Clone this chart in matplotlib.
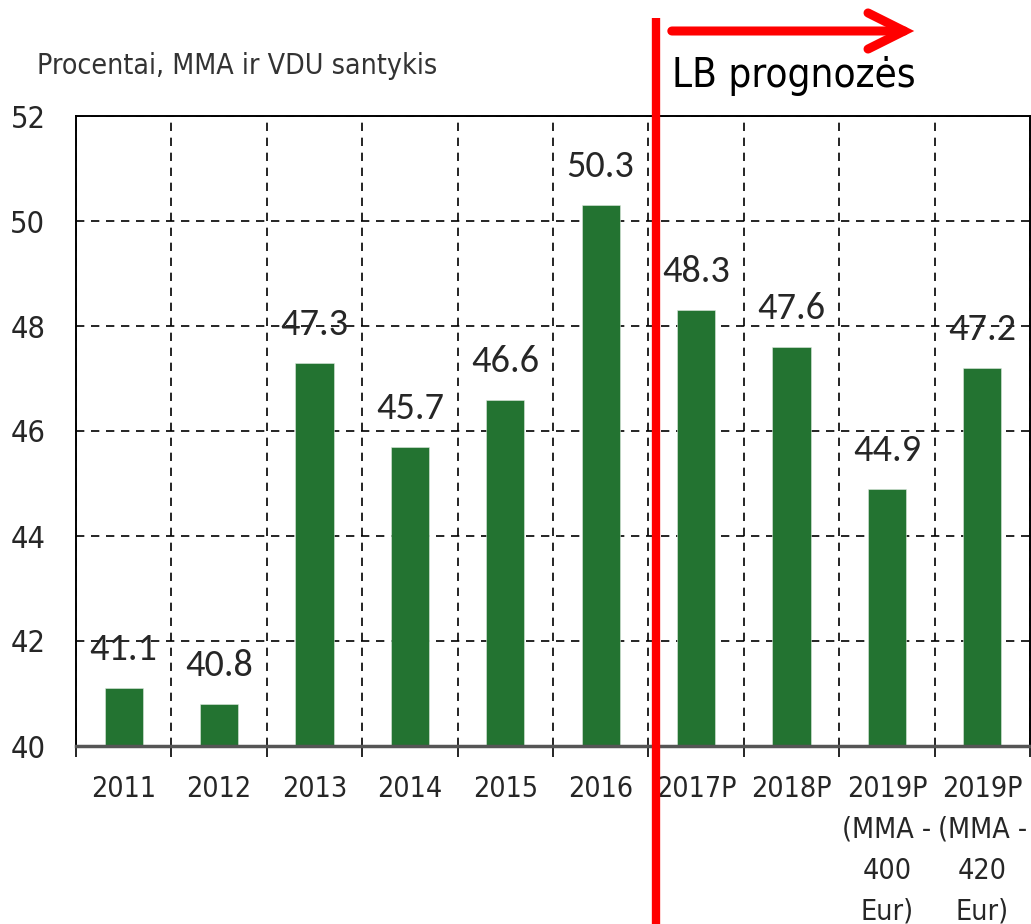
import matplotlib

matplotlib.use("Agg")
import matplotlib.pyplot as plt
import numpy as np
from matplotlib import font_manager
from matplotlib.lines import Line2D
from matplotlib.patches import FancyArrowPatch, ArrowStyle

categories = ["2011", "2012", "2013", "2014", "2015", "2016", "2017P", "2018P",
              "2019P\n(MMA -\n400\nEur)", "2019P\n(MMA -\n420\nEur)"]
values = [41.1, 40.8, 47.3, 45.7, 46.6, 50.3, 48.3, 47.6, 44.9, 47.2]
y_ticks = [40, 42, 44, 46, 48, 50, 52]

GREEN = "#237331"
RED = "#ff0000"


def narrow_font():
    """Pick a condensed sans if one is installed, else plain Liberation Sans."""
    for fam in ["Liberation Sans Narrow", "DejaVu Sans"]:
        fp = font_manager.FontProperties(family=fam, stretch="condensed")
        try:
            path = font_manager.findfont(fp, fallback_to_default=False)
        except Exception:
            continue
        if "Narrow" in path or "Condensed" in path:
            return dict(family=fam, stretch="condensed"), True
    return dict(family="Liberation Sans"), False


NARROW, is_narrow = narrow_font()
k = 1.0 if is_narrow else 0.86
LABEL_FONT = ["Carlito", "Lato", "DejaVu Sans"]

fig = plt.figure(figsize=(10.31, 9.24), dpi=100)
W, H = 1031, 924
ax = fig.add_axes([76 / W, 1 - 746 / H, (1030 - 76) / W, (746 - 116) / H])

x = np.arange(len(values))
ax.bar(x, values, width=0.4, color=GREEN, edgecolor="#dfe9df", lw=0.4, zorder=3)
for xi, v in zip(x, values):
    ax.text(xi, v + 0.73, f"{v:.1f}", ha="center", va="center", fontsize=27.5,
            family=LABEL_FONT, color="#262626", zorder=4)

ax.set_xlim(-0.5, len(values) - 0.5)
ax.set_ylim(40, 52)

# boundaries as major ticks (grid + tick marks), labels on minor ticks at centres
ax.set_xticks(np.arange(len(values) + 1) - 0.5)
ax.set_xticklabels([])
ax.set_xticks(x, minor=True)
ax.set_xticklabels(categories, minor=True, fontsize=20.5 * k, color="#262626",
                   linespacing=1.58, **NARROW)
ax.tick_params(axis="x", which="major", length=8, width=1.2, color="black", direction="out")
ax.tick_params(axis="x", which="minor", length=0, pad=21)
ax.set_yticks(y_ticks)
ax.set_yticklabels([str(t) for t in y_ticks], fontsize=22 * k, color="#262626", **NARROW)
ax.tick_params(axis="y", length=0, pad=22)

ax.grid(True, which="major", color="black", ls=(0, (5, 4)), lw=1.2, zorder=1)
for s in ["left", "top", "right"]:
    ax.spines[s].set_linewidth(1.4)
    ax.spines[s].set_color("black")
ax.spines["bottom"].set_linewidth(2.5)
ax.spines["bottom"].set_color("#555555")
ax.spines["bottom"].set_zorder(5)

fig.text(37 / W, 1 - 66 / H, "Procentai, MMA ir VDU santykis", fontsize=20.4 * k,
         color="#333333", va="center", ha="left", **NARROW)
fig.text(672 / W, 1 - 76 / H, "LB prognozės", fontsize=29 * k,
         color="black", va="center", ha="left", **NARROW)

# red divider and forecast arrow
fig.add_artist(Line2D([655.5 / W, 655.5 / W], [0, 1 - 18 / H], transform=fig.transFigure,
                      color=RED, lw=6, solid_capstyle="butt"))
arrow = FancyArrowPatch((669 / W, 1 - 31 / H), (917 / W, 1 - 31 / H),
                        transform=fig.transFigure,
                        arrowstyle=ArrowStyle("->", head_length=26, head_width=13),
                        mutation_scale=1, color=RED, lw=6.5, capstyle="round",
                        joinstyle="miter")
fig.add_artist(arrow)

fig.savefig("out.png", dpi=100)
